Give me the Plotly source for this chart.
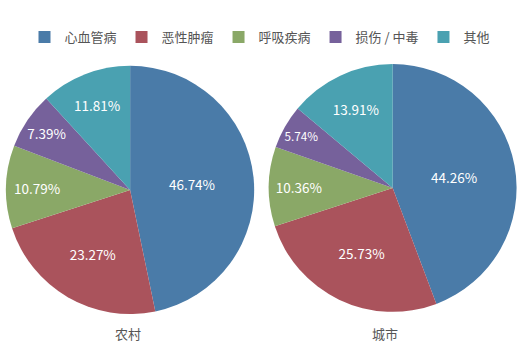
import plotly.graph_objects as go

categories = ["心血管病", "恶性肿瘤", "呼吸疾病", "损伤 / 中毒", "其他"]
rural_values = [46.74, 23.27, 10.79, 7.39, 11.81]
urban_values = [44.26, 25.73, 10.36, 5.74, 13.91]
group_labels = ["农村", "城市"]
colors = ["#4a7ba8", "#aa535c", "#8aa867", "#76619b", "#4aa1b1"]

font_family = "Noto Sans CJK SC, Noto Sans, sans-serif"

fig = go.Figure()
domains = [
    dict(x=[0.009, 0.481], y=[0.108, 0.813]),
    dict(x=[0.506, 0.973], y=[0.114, 0.818]),
]
for i, (vals, name) in enumerate(zip([rural_values, urban_values], group_labels)):
    fig.add_trace(go.Pie(
        labels=categories,
        values=vals,
        sort=False,
        direction="clockwise",
        rotation=0,
        domain=domains[i],
        marker=dict(colors=colors, line=dict(width=0)),
        texttemplate="%{value:.2f}%",
        textposition="inside",
        insidetextorientation="horizontal",
        textfont=dict(color="white", size=13.5, family=font_family),
        showlegend=(i == 0),
        name=name,
        hoverinfo="label+value",
    ))

for lbl, xp in zip(group_labels, [128, 385]):
    fig.add_annotation(text=lbl, x=xp / 531, y=1 - 333 / 352, xref="paper", yref="paper",
                       xanchor="center", yanchor="middle",
                       showarrow=False, font=dict(size=13, color="#555555", family=font_family))

fig.update_layout(
    width=531, height=352,
    margin=dict(l=0, r=0, t=0, b=0),
    paper_bgcolor="white",
    plot_bgcolor="white",
    font=dict(family=font_family),
    legend=dict(orientation="h", x=0.5 - 6 / 531, xanchor="center", y=1 - 37 / 352, yanchor="middle",
                font=dict(size=13, color="#555555", family=font_family),
                itemclick=False, traceorder="normal"),
)

fig.write_html("out.html")
